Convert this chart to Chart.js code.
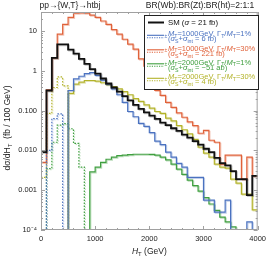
<!DOCTYPE html>
<html>
<head>
<meta charset="utf-8">
<script src="https://cdn.jsdelivr.net/npm/chart.js@4.4.1/dist/chart.umd.min.js"></script>
<style>
  html, body { margin: 0; padding: 0; background: #fff; }
  #wrap { width: 270px; height: 259px; }
</style>
</head>
<body>
<div id="wrap"><canvas id="htChart" width="270" height="259"></canvas></div>
<script>
// lower bin edges in GeV (100 GeV bins), last edge closes the histogram
var htBins = [0, 100, 200, 300, 400, 500, 600, 700, 800, 900,
              1000, 1100, 1200, 1300, 1400, 1500, 1600, 1700, 1800, 1900,
              2000, 2100, 2200, 2300, 2400, 2500, 2600, 2700, 2800, 2900,
              3000, 3100, 3200, 3300, 3400, 3500, 3600, 3700, 3800, 3900];
var htMax = 4000;

// dsigma/dHT in fb / 100 GeV. negative bins are drawn dotted (abs value), 0 = off scale
var smValues = [0.009, 0.32, 2.1, 4.6, 4.6, 3.4, 2.7, 2.0, 1.5, 1.1,
                0.85, 0.64, 0.48, 0.38, 0.3, 0.23, 0.18, 0.14, 0.11, 0.09,
                0.075, 0.062, 0.05, 0.043, 0.036, 0.031, 0.025, 0.021, 0.017, 0.014,
                0.011, 0.009, 0.0065, 0.0048, 0.0042, 0.003, 0.0019, 0.0019, 0.00075, 0.0023];
var m1000w1 = [0, -0.01, -0.063, -0.083, 0, 0.32, 0.63, 0.73, 0.85, 0.9,
               0.77, 0.58, 0.46, 0.35, 0.25, 0.16, 0.095, 0.07, 0.048, 0.04,
               0.028, 0.017, 0.014, 0.009, 0.0068, 0.0047, 0.0038, 0.0021, 0.0021, 0.0021,
               0.00056, 0.00056, 0.00028, 0.00028, 0.00056, 0, 0, 0, 0.00016, 0];
var m1000w30 = [0.005, 0.33, 2.1, 8.3, 14.7, 22, 28, 28.5, 28, 25,
                22, 17.8, 14.7, 10.8, 8.3, 6.2, 4.7, 3.5, 2.0, 1.3,
                0.6, 0.32, 0.24, 0.16, 0.12, 0.088, 0.068, 0.052, 0.042, 0.027,
                0.032, 0.018, 0.016, 0.0045, 0.0076, 0.0076, 0.0076, 0.0019, 0.0068, 0.0023];
var m2000w1 = [0, -0.0035, -0.016, -0.043, -0.047, -0.035, -0.015, -0.0038, 0, 0.0029,
               0.0038, 0.005, 0.006, 0.0068, 0.0074, 0.0076, 0.0078, 0.008, 0.008, 0.008,
               0.0079, 0.0076, 0.0068, 0.0058, 0.0045, 0.0034, 0.0025, 0.0018, 0.0013, 0.00095,
               0.00065, 0.00045, 0.00031, 0.00021, 0.00016, 0.00012, 0, 0, 0, 0];
var m2000w30 = [-0.0021, -0.085, -0.38, -0.7, -0.42, 0.27, 0.46, 0.52, 0.57, 0.57,
                0.55, 0.5, 0.45, 0.4, 0.35, 0.3, 0.25, 0.2, 0.17, 0.14,
                0.115, 0.095, 0.085, 0.065, 0.055, 0.042, 0.033, 0.026, 0.019, 0.012,
                0.0085, 0.0068, 0.0045, 0.0038, 0.0036, 0.0019, 0.0015, 0.0008, 0.0008, 0.00032];

var yTickValues = [0.0001, 0.001, 0.01, 0.1, 1, 10];
var yTickLabels = ['10\u207B\u2074', '0.001', '0.010', '0.100', '1', '10'];
var xTickValues = [0, 1000, 2000, 3000, 4000];

var FONT = '"Liberation Sans", Arial, sans-serif';
var colBlack = '#111111', colBlue = '#4b72c0', colRed = '#e0623a',
    colGreen = '#3f9f3f', colYellow = '#b3b32a';

function steps(vals, sign) {
  var pts = vals.map(function (v, i) {
    var y = sign > 0 ? (v > 0 ? v : 1e-7) : (v < 0 ? -v : 1e-7);
    return { x: htBins[i], y: y };
  });
  pts.push({ x: htMax, y: pts[pts.length - 1].y });
  return pts;
}

function hist(vals, sign, color, shadow, width) {
  return {
    data: steps(vals, sign),
    borderColor: color,
    shadowCol: shadow,
    borderWidth: width || 1.2,
    borderDash: sign > 0 ? [] : [1.5, 1.5],
    stepped: true,
    pointRadius: 0,
    fill: false
  };
}

// draws text with {i:..} italic and {s:..} subscript pieces
function rich(ctx, x, y, str, size, color) {
  var re = /\{(i|s):([^}]*)\}|([^{]+)/g, m;
  ctx.fillStyle = color;
  ctx.textBaseline = 'middle';
  ctx.textAlign = 'left';
  while ((m = re.exec(str)) !== null) {
    var txt = m[3] !== undefined ? m[3] : m[2];
    var sub = m[1] === 's', it = m[1] === 'i';
    var s = sub ? size * 0.7 : size;
    ctx.font = (it ? 'italic ' : '') + s + 'px ' + FONT;
    ctx.fillText(txt, x, y + (sub ? size * 0.32 : 0));
    x += ctx.measureText(txt).width;
  }
  return x;
}
function richWidth(ctx, str, size) {
  var re = /\{(i|s):([^}]*)\}|([^{]+)/g, m, w = 0;
  while ((m = re.exec(str)) !== null) {
    var txt = m[3] !== undefined ? m[3] : m[2];
    ctx.font = (m[1] === 'i' ? 'italic ' : '') + (m[1] === 's' ? size * 0.7 : size) + 'px ' + FONT;
    w += ctx.measureText(txt).width;
  }
  return w;
}

var legendRows = [
  { color: colBlack, y: 22.5, lines: ['SM ({i:\u03C3} = 21 fb)'] },
  { color: colBlue, y: 34, lines: ['{i:M}{s:T}=1000GeV, \u0393{s:T}/{i:M}{s:T}=1%', '({i:\u03C3}{s:S}+{i:\u03C3}{s:int} = 6 fb)'] },
  { color: colRed, y: 48.5, lines: ['{i:M}{s:T}=1000GeV, \u0393{s:T}/{i:M}{s:T}=30%', '({i:\u03C3}{s:S}+{i:\u03C3}{s:int} = 221 fb)'] },
  { color: colGreen, y: 62.5, lines: ['{i:M}{s:T}=2000GeV, \u0393{s:T}/{i:M}{s:T}=1%', '({i:\u03C3}{s:S}+{i:\u03C3}{s:int} = \u221251 ab)'] },
  { color: colYellow, y: 77, lines: ['{i:M}{s:T}=2000GeV, \u0393{s:T}/{i:M}{s:T}=30%', '({i:\u03C3}{s:S}+{i:\u03C3}{s:int} = 4 fb)'] }
];

var shadowPlugin = {
  id: 'shadow',
  beforeDatasetDraw: function (chart, args) {
    var ds = chart.data.datasets[args.index];
    chart.ctx.save();
    chart.ctx.shadowColor = ds.shadowCol;
    chart.ctx.shadowOffsetX = 1;
    chart.ctx.shadowOffsetY = 1;
    chart.ctx.shadowBlur = 0.5;
  },
  afterDatasetDraw: function (chart) {
    chart.ctx.restore();
  }
};

var decorPlugin = {
  id: 'decor',
  afterDraw: function (chart) {
    var ctx = chart.ctx, a = chart.chartArea;
    var xs = chart.scales.x, ys = chart.scales.y;
    ctx.save();
    // frame + inward ticks
    ctx.strokeStyle = '#a0a0a0';
    ctx.lineWidth = 1;
    ctx.strokeRect(a.left + 0.5, a.top + 0.5, a.right - a.left - 1, a.bottom - a.top - 1);
    ctx.beginPath();
    for (var d = -4; d <= 1; d++) {
      for (var k = 1; k <= 9; k++) {
        var v = k * Math.pow(10, d);
        if (v > ys.max) break;
        var py = Math.round(ys.getPixelForValue(v)) + 0.5;
        var len = k === 1 ? 4 : 2;
        ctx.moveTo(a.left, py); ctx.lineTo(a.left + len, py);
        ctx.moveTo(a.right, py); ctx.lineTo(a.right - len, py);
      }
    }
    for (var t = 0; t <= htMax; t += 200) {
      var px = Math.round(xs.getPixelForValue(t)) + 0.5;
      var l2 = t % 1000 === 0 ? 4 : 2;
      ctx.moveTo(px, a.bottom); ctx.lineTo(px, a.bottom - l2);
      ctx.moveTo(px, a.top); ctx.lineTo(px, a.top + l2);
    }
    ctx.stroke();

    // legend box
    var bx = 144, by = 15, bw = 114, bh = 74;
    ctx.fillStyle = '#fff';
    ctx.fillRect(bx, by, bw, bh);
    ctx.strokeStyle = '#222';
    ctx.lineWidth = 1;
    ctx.strokeRect(bx + 0.5, by + 0.5, bw, bh);
    legendRows.forEach(function (r, i) {
      if (i === 0) {
        ctx.strokeStyle = r.color; ctx.lineWidth = 2; ctx.setLineDash([]);
        ctx.beginPath(); ctx.moveTo(148, r.y); ctx.lineTo(164, r.y); ctx.stroke();
        rich(ctx, 168, r.y, r.lines[0], 7.8, colBlack);
        return;
      }
      var my = r.y + 2.5;
      ctx.strokeStyle = r.color; ctx.lineWidth = 1.1;
      ctx.setLineDash([]);
      ctx.beginPath(); ctx.moveTo(147, my - 1.2); ctx.lineTo(164, my - 1.2); ctx.stroke();
      ctx.setLineDash([1.2, 1.2]);
      ctx.beginPath(); ctx.moveTo(147, my + 1.2); ctx.lineTo(164, my + 1.2); ctx.stroke();
      ctx.setLineDash([]);
      ctx.fillStyle = r.color;
      ctx.font = '5px ' + FONT; ctx.textBaseline = 'middle'; ctx.textAlign = 'left';
      ctx.fillText('\u00B1', 164.5, my);
      rich(ctx, 168, r.y, r.lines[0], 7.5, r.color);
      rich(ctx, 168, r.y + 5.2, r.lines[1], 7.5, r.color);
    });

    // titles
    ctx.fillStyle = '#222';
    ctx.textBaseline = 'middle';
    ctx.textAlign = 'center';
    ctx.font = '8.5px ' + FONT;
    ctx.fillText('pp\u2192{W,T}\u2192htbj', 70, 6);
    ctx.fillText('BR(Wb):BR(Zt):BR(ht)=2:1:1', 200, 6);

    // axis titles
    var xt = '{i:H}{s:T} (GeV)';
    rich(ctx, (a.left + a.right) / 2 - richWidth(ctx, xt, 8.5) / 2, 252, xt, 8.5, '#222');
    ctx.translate(8, 128);
    ctx.rotate(-Math.PI / 2);
    var yt = 'd\u03C3/dH{s:T}  (fb / 100 GeV)';
    rich(ctx, -richWidth(ctx, yt, 8.5) / 2, 0, yt, 8.5, '#222');
    ctx.restore();
  }
};

new Chart('htChart', {
  type: 'line',
  data: {
    datasets: [
      hist(smValues, 1, colBlack, 'rgba(0,0,0,0.22)', 1.8),
      hist(m1000w1, 1, colBlue, 'rgba(75,114,192,0.35)'),
      hist(m1000w1, -1, colBlue, 'rgba(75,114,192,0.3)'),
      hist(m1000w30, 1, colRed, 'rgba(224,98,58,0.35)'),
      hist(m2000w1, 1, colGreen, 'rgba(63,159,63,0.35)'),
      hist(m2000w1, -1, colGreen, 'rgba(63,159,63,0.3)'),
      hist(m2000w30, 1, colYellow, 'rgba(179,179,42,0.35)'),
      hist(m2000w30, -1, colYellow, 'rgba(179,179,42,0.3)')
    ]
  },
  options: {
    responsive: false,
    animation: false,
    devicePixelRatio: 1,
    layout: { padding: { top: 12, right: 11, left: 0, bottom: 0 } },
    plugins: { legend: { display: false }, tooltip: { enabled: false } },
    scales: {
      x: {
        type: 'linear',
        min: 0,
        max: htMax,
        afterFit: function (s) { s.height = 29; },
        afterBuildTicks: function (s) { s.ticks = xTickValues.map(function (v) { return { value: v }; }); },
        grid: { display: false, drawTicks: false },
        border: { display: false },
        ticks: {
          padding: 4, maxRotation: 0, color: '#222', font: { family: FONT, size: 7.5 },
          callback: function (v) { return String(v); }
        }
      },
      y: {
        type: 'logarithmic',
        min: 0.0001,
        max: 30,
        afterFit: function (s) { s.width = 41; },
        afterBuildTicks: function (s) { s.ticks = yTickValues.map(function (v) { return { value: v }; }); },
        grid: { display: false, drawTicks: false },
        border: { display: false },
        ticks: {
          padding: 4,
          color: '#222',
          font: { family: FONT, size: 7.5 },
          callback: function (v) { var i = yTickValues.indexOf(v); return i >= 0 ? yTickLabels[i] : ''; }
        }
      }
    }
  },
  plugins: [shadowPlugin, decorPlugin]
});
</script>
</body>
</html>
